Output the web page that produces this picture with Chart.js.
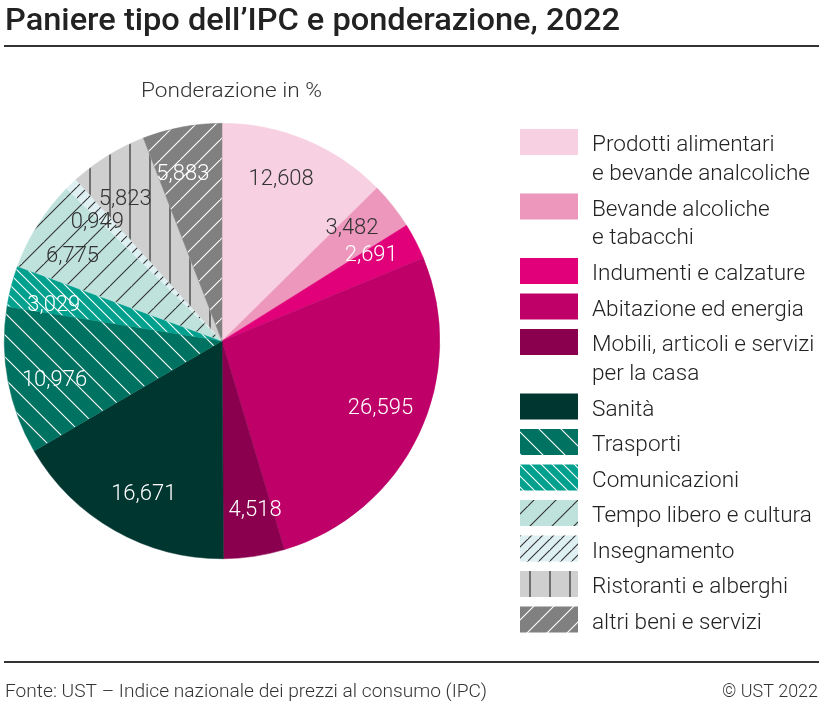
<!DOCTYPE html>
<html>
<head>
<meta charset="utf-8">
<script src="https://cdn.jsdelivr.net/npm/chart.js@4.4.0/dist/chart.umd.min.js"></script>
<style>
  html, body { margin: 0; padding: 0; background: #fff; }
  #wrap { width: 819px; height: 702px; position: relative; }
</style>
</head>
<body>
<div id="wrap"><canvas id="myChart" width="819" height="702"></canvas></div>
<script>
const categories = [
  'Prodotti alimentari\ne bevande analcoliche',
  'Bevande alcoliche\ne tabacchi',
  'Indumenti e calzature',
  'Abitazione ed energia',
  'Mobili, articoli e servizi\nper la casa',
  'Sanità',
  'Trasporti',
  'Comunicazioni',
  'Tempo libero e cultura',
  'Insegnamento',
  'Ristoranti e alberghi',
  'altri beni e servizi'
];
const weights = [12.608, 3.482, 2.691, 26.595, 4.518, 16.671, 10.976, 3.029, 6.775, 0.949, 5.823, 5.883];

const baseColors = ['#f7d1e1', '#ec97bb', '#e1007a', '#bf0069', '#8a004e', '#003630',
                    '#007261', '#00a08f', '#bfe2dd', '#dff0f2', '#cfcfcf', '#808080'];
// hatch: [direction, spacing, line colour]
const hatches = [null, null, null, null, null, null,
                 ['back', 22, '#ffffff'], ['back', 11, '#ffffff'], ['fwd', 22, '#333333'],
                 ['fwd', 11, '#333333'], ['vert', 19.5, '#222222'], ['fwd', 20, '#ffffff']];
const labelColors = ['#333', '#333', '#fff', '#fff', '#fff', '#fff', '#fff', '#fff', '#333', '#333', '#333', '#fff'];

const title = 'Paniere tipo dell\u2019IPC e ponderazione, 2022';
const subtitle = 'Ponderazione in %';
const source = 'Fonte: UST \u2013 Indice nazionale dei prezzi al consumo (IPC)';
const copyright = '\u00a9 UST 2022';

function makePattern(bg, h) {
  if (!h) return bg;
  const [dir, s, col] = h;
  const size = Math.round(s);
  const c = document.createElement('canvas');
  c.width = size; c.height = size;
  const x = c.getContext('2d');
  x.fillStyle = bg;
  x.fillRect(0, 0, size, size);
  x.strokeStyle = col;
  x.lineWidth = 1.1;
  x.beginPath();
  if (dir === 'vert') {
    x.moveTo(size / 2, 0); x.lineTo(size / 2, size);
  } else if (dir === 'fwd') {
    x.moveTo(-1, size + 1); x.lineTo(size + 1, -1);
    x.moveTo(-size - 1, size + 1); x.lineTo(1, -1);
    x.moveTo(size - 1, 2 * size + 1); x.lineTo(2 * size + 1, size - 1);
  } else {
    x.moveTo(-1, -1); x.lineTo(size + 1, size + 1);
    x.moveTo(-size - 1, -1); x.lineTo(1, size + 1);
    x.moveTo(size - 1, -1); x.lineTo(2 * size + 1, size + 1);
  }
  x.stroke();
  return x.createPattern(c, 'repeat');
}

function fitText(ctx, text, x, y, width, align) {
  const w = ctx.measureText(text).width;
  const sx = width / w;
  ctx.save();
  ctx.translate(x, y);
  ctx.scale(sx, 1);
  ctx.textAlign = 'left';
  ctx.fillText(text, align === 'right' ? -w : 0, 0);
  ctx.restore();
}

const fills = baseColors.map((c, i) => makePattern(c, hatches[i]));

const frame = {
  id: 'frame',
  afterDraw(chart) {
    const ctx = chart.ctx;
    ctx.save();
    ctx.fillStyle = '#222';
    ctx.textBaseline = 'alphabetic';
    ctx.font = '500 31px Roboto';
    fitText(ctx, title, 5, 30, 615);
    ctx.fillStyle = '#333';
    ctx.fillRect(4, 45, 815, 2);
    ctx.fillRect(4, 661, 815, 2);

    ctx.fillStyle = '#333';
    ctx.font = '300 21px Roboto';
    fitText(ctx, subtitle, 141, 97, 181);

    ctx.font = '300 18px Roboto';
    fitText(ctx, source, 5, 697, 482);
    fitText(ctx, copyright, 818, 697, 96, 'right');

    // legend
    let top = 129;
    ctx.font = '300 21.5px Roboto';
    categories.forEach((cat, i) => {
      ctx.fillStyle = fills[i];
      ctx.fillRect(520, top, 58, 26);
      const lines = cat.split('\n');
      ctx.fillStyle = '#222';
      lines.forEach((ln, j) => {
        const w = ctx.measureText(ln).width;
        fitText(ctx, ln, 592, top + 22 + j * 28.5, w * 1.05);
      });
      top += 35.5 + (lines.length - 1) * 29;
    });
    ctx.restore();
  }
};

const sliceLabels = {
  id: 'sliceLabels',
  afterDatasetsDraw(chart) {
    const ctx = chart.ctx;
    const meta = chart.getDatasetMeta(0);
    ctx.save();
    ctx.font = '300 22px Roboto';
    ctx.textAlign = 'center';
    ctx.textBaseline = 'alphabetic';
    meta.data.forEach((arc, i) => {
      const p = arc.getProps(['x', 'y', 'startAngle', 'endAngle', 'outerRadius'], true);
      const mid = (p.startAngle + p.endAngle) / 2 - 0.045;
      const r = p.outerRadius * 0.79;
      ctx.fillStyle = labelColors[i];
      ctx.fillText(weights[i].toFixed(3).replace('.', ','), p.x + Math.cos(mid) * r, p.y + Math.sin(mid) * r + 6);
    });
    ctx.restore();
  }
};

document.fonts.load('300 20px Roboto').then(() => document.fonts.load('500 31px Roboto')).finally(() => {
  const ctx = document.getElementById('myChart').getContext('2d');
  new Chart(ctx, {
    type: 'pie',
    data: {
      labels: categories,
      datasets: [{
        data: weights,
        backgroundColor: fills,
        borderColor: baseColors,
        borderWidth: 0.5
      }]
    },
    options: {
      responsive: false,
      devicePixelRatio: 1,
      animation: false,
      layout: { padding: { left: 4, right: 379, top: 123, bottom: 143 } },
      plugins: { legend: { display: false }, tooltip: { enabled: false } }
    },
    plugins: [sliceLabels, frame]
  });
});
</script>
</body>
</html>
